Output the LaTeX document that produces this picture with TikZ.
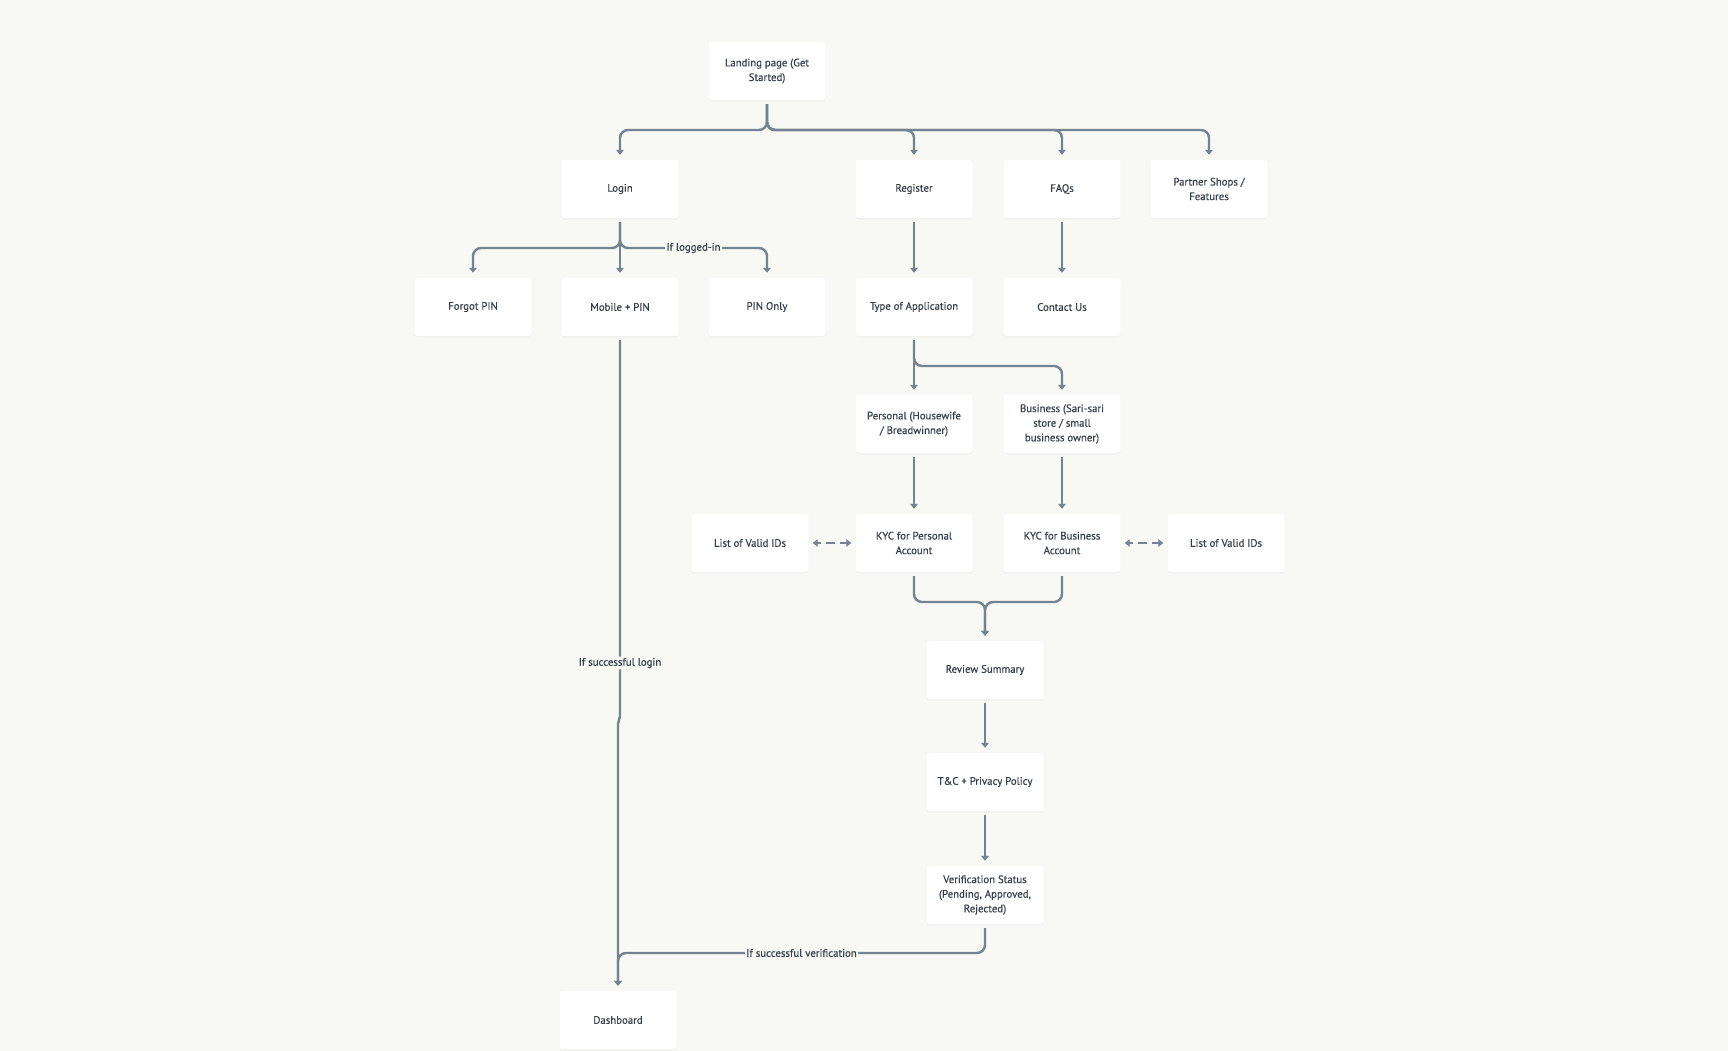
\documentclass[tikz,border=0pt]{standalone}
\usepackage{fontspec}
\setmainfont{PT Sans}[BoldFont={PT Sans}, BoldFeatures={FakeBold=0.5}]
\usetikzlibrary{arrows.meta,shadows,calc}
\definecolor{bg}{HTML}{F8F8F4}
\definecolor{ln}{HTML}{738391}
\definecolor{tx}{HTML}{36414C}
\begin{document}
\begin{tikzpicture}[x=1pt,y=-1pt,
  box/.style={fill=white, rounded corners=3pt, minimum width=117pt, minimum height=58pt,
    align=center, font=\fontsize{10.8}{14.6}\selectfont\bfseries, text=tx,
    drop shadow={opacity=0.06,shadow xshift=0pt,shadow yshift=-1.5pt}},
  conn/.style={draw=ln, line width=2.4pt, rounded corners=8pt,
    -{Triangle[width=7.5pt,length=5pt]}, shorten <=4pt, shorten >=5pt},
  dconn/.style={draw=ln, line width=2.4pt, dash pattern=on 9pt off 5pt, dash phase=-9pt,
    {Triangle[width=7.5pt,length=5pt]}-{Triangle[width=7.5pt,length=5pt]}, shorten <=4pt, shorten >=4pt},
  lbl/.style={fill=bg, text=tx, inner sep=1.5pt, font=\fontsize{10.8}{12}\selectfont\bfseries}
]
\fill[bg] (0,0) rectangle (1728,1051);
\useasboundingbox (0,0) rectangle (1728,1051);

\node[box] (landing) at (767,71) {Landing page (Get\\Started)};
\node[box] (login) at (620,189) {Login};
\node[box] (register) at (914,189) {Register};
\node[box] (faqs) at (1062,189) {FAQs};
\node[box] (partner) at (1209,189) {Partner Shops /\\Features};
\node[box] (forgot) at (473,307) {Forgot PIN};
\node[box] (mobile) at (620,307) {Mobile + PIN};
\node[box] (pinonly) at (767,307) {PIN Only};
\node[box] (type) at (914,307) {Type of Application};
\node[box] (contact) at (1062,307) {Contact Us};
\node[box] (personal) at (914,424) {Personal (Housewife\\/ Breadwinner)};
\node[box] (business) at (1062,424) {Business (Sari-sari\\store / small\\business owner)};
\node[box] (list1) at (750,543) {List of Valid IDs};
\node[box] (kycp) at (914,543) {KYC for Personal\\Account};
\node[box] (kycb) at (1062,543) {KYC for Business\\Account};
\node[box] (list2) at (1226,543) {List of Valid IDs};
\node[box] (review) at (985,670) {Review Summary};
\node[box] (tc) at (985,782) {T\&C + Privacy Policy};
\node[box] (verif) at (985,895) {Verification Status\\(Pending, Approved,\\Rejected)};
\node[box] (dash) at (618,1020) {Dashboard};

\coordinate (yL) at (0,130);
\coordinate (yG) at (0,248);
\coordinate (yT) at (0,366);
\coordinate (yK) at (0,602);
\coordinate (yV) at (0,953);
\coordinate (j1) at (0,718);
\coordinate (j2) at (0,722);

% landing branches
\draw[conn] (landing.south) -- (landing.south |- yL) -| (login.north);
\draw[conn] (landing.south) -- (landing.south |- yL) -| (register.north);
\draw[conn] (landing.south) -- (landing.south |- yL) -| (faqs.north);
\draw[conn] (landing.south) -- (landing.south |- yL) -| (partner.north);

% login branches
\draw[conn] (login.south) -- (login.south |- yG) -| (forgot.north);
\draw[conn] (login.south) -- (mobile.north);
\draw[conn] (login.south) -- (login.south |- yG) -| node[lbl, pos=0.25] {If logged-in} (pinonly.north);

% register / faqs
\draw[conn] (register.south) -- (type.north);
\draw[conn] (faqs.south) -- (contact.north);

% type branches
\draw[conn] (type.south) -- (personal.north);
\draw[conn] (type.south) -- (type.south |- yT) -| (business.north);

\draw[conn] (personal.south) -- (kycp.north);
\draw[conn] (business.south) -- (kycb.north);

\draw[dconn] (list1.east) -- (kycp.west);
\draw[dconn] (kycb.east) -- (list2.west);

% merge to review
\draw[conn] (kycp.south) -- (kycp.south |- yK) -| (review.north);
\draw[conn] (kycb.south) -- (kycb.south |- yK) -| (review.north);

\draw[conn] (review.south) -- (tc.north);
\draw[conn] (tc.south) -- (verif.north);

% to dashboard
\draw[conn, rounded corners=2pt] (mobile.south) -- node[lbl, pos=0.856] {If successful login} (mobile.south |- j1) -- (dash.north |- j2) -- (dash.north);
\draw[conn] (verif.south) -- (verif.south |- yV) -- node[lbl] {If successful verification} (dash.north |- yV) -- (dash.north);
\end{tikzpicture}
\end{document}
